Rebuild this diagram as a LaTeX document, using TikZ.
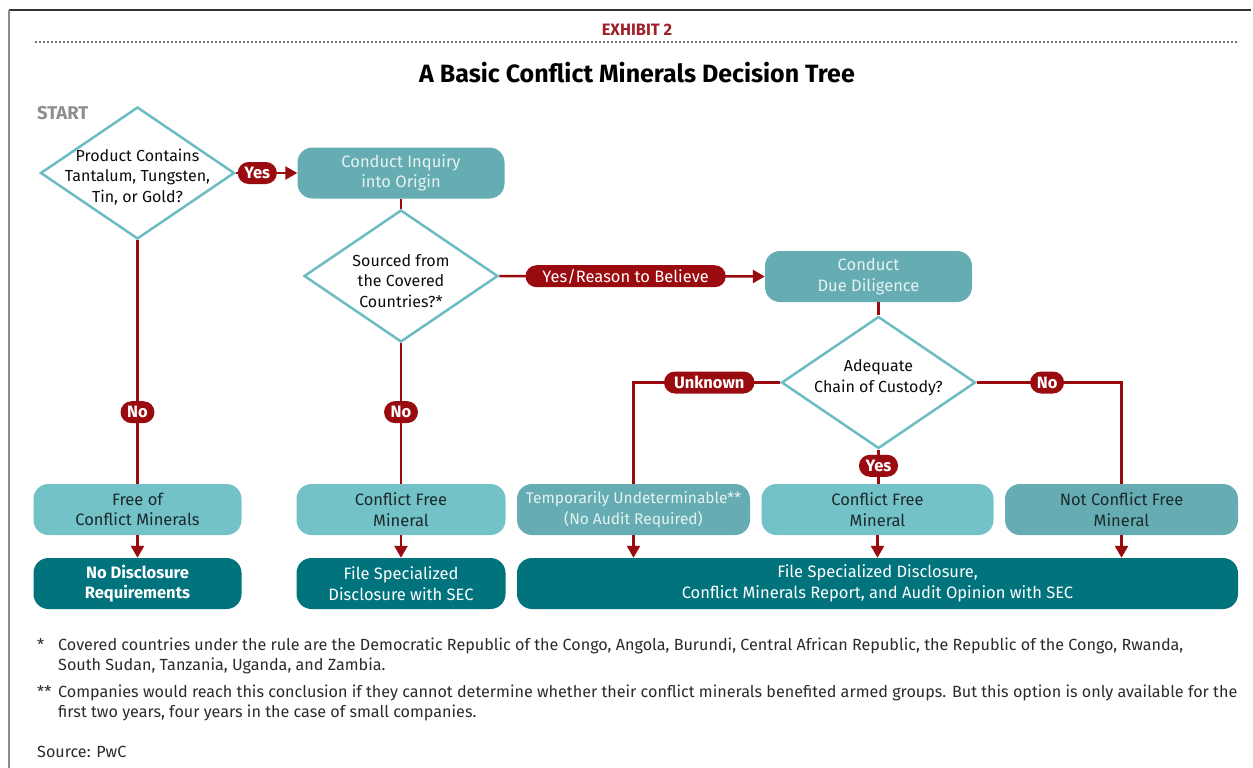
\documentclass[tikz,border=0pt]{standalone}
\usepackage{fontspec}
\setmainfont{Fira Sans}
\usetikzlibrary{shapes.geometric,shapes.misc,arrows.meta,calc}

\definecolor{cmred}{HTML}{9A0B10}
\definecolor{exred}{HTML}{A0202A}
\definecolor{teallite}{HTML}{72C2C8}
\definecolor{tealmid}{HTML}{66ADB3}
\definecolor{tealdark}{HTML}{00737D}
\definecolor{dialine}{HTML}{6CBCC3}
\definecolor{inkdark}{HTML}{1B2A2C}
\definecolor{inklight}{HTML}{E6F2F2}
\definecolor{startgray}{HTML}{8E8E8E}
\definecolor{notegray}{HTML}{2B2B2B}

\newcommand\cmboxfont{\fontsize{16.5}{20.5}\selectfont}
\newcommand\cmdiafont{\fontsize{16}{20.5}\selectfont}
\newcommand\cmpillfont{\fontsize{16.5}{18}\selectfont}
\newcommand\cmnotefont{\fontsize{16.15}{20}\selectfont}

\tikzset{
  boxbase/.style={rounded corners=15pt, minimum height=51pt, align=center,
    inner sep=2pt, font=\cmboxfont},
  litebox/.style={boxbase, fill=teallite, text=inkdark},
  midbox/.style={boxbase, fill=tealmid, text=inklight},
  middarkbox/.style={boxbase, fill=tealmid, text=inkdark},
  darkbox/.style={boxbase, fill=tealdark, text=white},
  dia/.style={diamond, draw=dialine, line width=2.5pt, fill=white,
    minimum width=194pt, minimum height=132pt, inner sep=0pt},
  dtext/.style={align=center, font=\cmdiafont, text=black!95, inner sep=0pt},
  pill/.style={rounded rectangle, fill=cmred, text=white, font=\cmpillfont\bfseries,
    inner xsep=5pt, inner ysep=1pt, minimum height=22pt},
  conn/.style={draw=cmred, line width=2.5pt},
  arr/.style={conn, -{Triangle[width=13pt,length=12pt]}},
  note/.style={anchor=north west, inner sep=0pt, font=\cmnotefont, text=notegray, align=left}
}

\begin{document}
\begin{tikzpicture}[x=1pt,y=-1pt]
  \useasboundingbox (0,0) rectangle (1253,768);

  % frame and header rule
  \draw[line width=1.5pt, draw=black!80] (9,10) -- (1251,10);
  \draw[line width=2pt, draw=black!45] (9,10) -- (9,768);
  \draw[line width=1.6pt, draw=black!55, dash pattern=on 1.6pt off 2.4pt] (35,42) -- (1237,42);

  \node (exhibit) at (637,30) {\fontsize{16.5}{18}\selectfont\bfseries\color{exred}EXHIBIT 2};
  \node (title) at (637,73) {\fontsize{25}{28}\selectfont\bfseries A Basic Conflict Minerals Decision Tree};
  \node[anchor=west, inner sep=0pt] (start) at (37,113) {\fontsize{18.5}{20}\selectfont\bfseries\color{startgray}START};

  % decisions
  \node[dia, label={[dtext, yshift=-4pt]center:{Product Contains\\Tantalum, Tungsten,\\Tin, or Gold?}}] (d1) at (137.5,173) {};
  \node[dia, label={[dtext, yshift=-5pt]center:{Sourced from\\the Covered\\Countries?*}}] (d2) at (401,276) {};
  \node[dia, label={[dtext, yshift=5pt]center:{Adequate\\Chain of Custody?}}] (d3) at (878.5,382.5) {};

  % process boxes
  \node[midbox, minimum width=207pt] (inq) at (401,173) {Conduct Inquiry\\into Origin};
  \node[midbox, minimum width=207pt] (dd) at (868.5,276.5) {Conduct\\Due Diligence};

  % outcome boxes
  \node[litebox, minimum width=208pt] (free) at (137.5,509.5) {Free of\\Conflict Minerals};
  \node[litebox, minimum width=209pt] (cf1) at (401,509.5) {Conflict Free\\Mineral};
  \node[midbox, minimum width=233pt, font=\fontsize{15.5}{20.5}\selectfont] (tmp) at (633.5,509.5) {Temporarily Undeterminable**\\(No Audit Required)};
  \node[litebox, minimum width=232pt] (cf2) at (877.5,509.5) {Conflict Free\\Mineral};
  \node[middarkbox, minimum width=233pt] (ncf) at (1121.5,509.5) {Not Conflict Free\\Mineral};

  % disclosure boxes
  \node[darkbox, minimum width=208pt, font=\cmboxfont\bfseries] (nodisc) at (137.5,583.5) {No Disclosure\\Requirements};
  \node[darkbox, minimum width=209pt] (fsec) at (401,583.5) {File Specialized\\Disclosure with SEC};
  \node[darkbox, minimum width=721pt] (fin) at (877.5,583.5) {File Specialized Disclosure,\\Conflict Minerals Report, and Audit Opinion with SEC};

  % connectors
  \draw[arr] (d1.east) -- node[pill, pos=0.35] (yes1) {Yes} (inq.west);
  \draw[conn] (inq.south) -- (d2.north);
  \draw[arr] (d2.east) -- node[pill, pos=0.476, font=\cmpillfont, inner xsep=14pt] (yrb) {Yes/Reason to Believe} (dd.west);
  \draw[conn] (dd.south -| d3.north) -- (d3.north);

  \draw[conn] (d1.south) -- node[pill, pos=0.706] (no1) {No} (free.north);
  \draw[conn] (d2.south) -- node[pill, pos=0.49] (no2) {No} (cf1.north);

  \draw[conn] (d3.west) -| node[pill, pos=0.242, inner xsep=8pt] (unk) {Unknown} (tmp.north);
  \draw[conn] (d3.east) -| node[pill, pos=0.243] (no3) {No} (ncf.north);
  \draw[conn] (d3.south) -- node[pill, pos=0.47] (yes3) {Yes} (cf2.north -| d3.south);

  \draw[arr] (free.south) -- (nodisc.north);
  \draw[arr] (cf1.south) -- (fsec.north);
  \draw[arr] (tmp.south) -- (tmp.south |- fin.north);
  \draw[arr] (cf2.south) -- (cf2.south |- fin.north);
  \draw[arr] (ncf.south) -- (ncf.south |- fin.north);

  % footnotes
  \node[note] (fnA) at (37,638) {*};
  \node[note] (fnAtext) at (58,638) {Covered countries under the rule are the Democratic Republic of the Congo, Angola, Burundi, Central African Republic, the Republic of the Congo, Rwanda,\\South Sudan, Tanzania, Uganda, and Zambia.};
  \node[note] (fnB) at (37,685) {**};
  \node[note] (fnBtext) at (58,685) {Companies would reach this conclusion if they cannot determine whether their conflict minerals benefited armed groups. But this option is only available for the\\first two years, four years in the case of small companies.};
  \node[note] (src) at (37,746) {Source: PwC};
\end{tikzpicture}
\end{document}
